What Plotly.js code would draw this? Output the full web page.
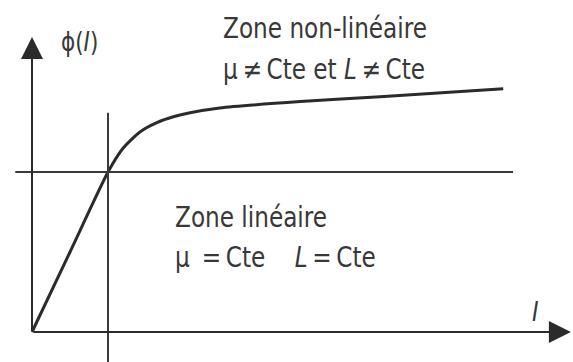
<!DOCTYPE html>
<html>
<head>
<meta charset="utf-8">
<script src="https://cdn.plot.ly/plotly-3.0.1.min.js"></script>
<style>
  html, body { margin: 0; padding: 0; background: #fff; }
  #chart { width: 573px; height: 362px; }
  /* narrow the lettering a little, keeping each label's left edge in place */
  #chart .annotation-text {
    transform-box: fill-box;
    transform-origin: left center;
    transform: scaleX(0.92);
  }
</style>
</head>
<body>
<div id="chart"></div>
<script>
// Magnetisation curve phi(I): linear zone up to the knee, then saturation
const current = [0, 0.5, 1, 1.2, 1.42, 1.65, 1.86, 2.08, 2.47, 3.53, 4.58, 6.2];
const flux    = [0, 0.5, 1, 1.15, 1.25, 1.31, 1.345, 1.37, 1.40, 1.44, 1.47, 1.52];

// Knee of the curve (end of the linear zone)
const kneeI = 1;
const kneePhi = 1;

// Axis extents
const xMin = -0.421, xMax = 7.118;
const yMin = -0.1875, yMax = 2.075;
const yAxisTop = 1.844;
const xAxisEnd = 7.09;
const kneeVTop = 1.37;
const kneeHLeft = -0.22, kneeHRight = 6.33;

// Labels
const labelPhi = "ϕ(<i>I</i>)";
const labelI = "<i>I</i>";
const zoneNL = "Zone non-linéaire";
const zoneNLcond = "µ&#8201;≠&#8201;Cte et <i>L</i>&#8201;≠&#8201;Cte";
const zoneL = "Zone linéaire";
const zoneLcond = "µ&#160;&#8201;=&#8201;Cte&#160;&#160;&#160;&#160;<i>L</i>&#8201;=&#8201;Cte";

const W = 573, H = 362;
const px = v => v / W;
const py = v => 1 - v / H;

const ink = "#2b2b2b";
const textInk = "#383838";
const font = { family: "DejaVu Sans Condensed, DejaVu Sans, sans-serif", size: 28, color: textInk };

const traces = [
  {
    x: current, y: flux,
    type: "scatter", mode: "lines",
    line: { color: ink, width: 3, shape: "spline", smoothing: 0.6 },
    hoverinfo: "skip"
  },
  // vertical guide through the knee
  {
    x: [kneeI, kneeI], y: [yMin, kneeVTop],
    type: "scatter", mode: "lines",
    line: { color: "#3a3a3a", width: 2 }, hoverinfo: "skip"
  },
  // horizontal guide through the knee
  {
    x: [kneeHLeft, kneeHRight], y: [kneePhi, kneePhi],
    type: "scatter", mode: "lines",
    line: { color: "#3a3a3a", width: 2 }, hoverinfo: "skip"
  }
];

const annotations = [
  // axes with arrowheads
  { x: 0, y: yAxisTop, ax: 0, ay: 0, xref: "x", yref: "y", axref: "x", ayref: "y",
    showarrow: true, arrowhead: 2, arrowsize: 2.2, arrowwidth: 2, arrowcolor: ink, text: "" },
  { x: xAxisEnd, y: 0, ax: 0, ay: 0, xref: "x", yref: "y", axref: "x", ayref: "y",
    showarrow: true, arrowhead: 2, arrowsize: 2.2, arrowwidth: 2, arrowcolor: ink, text: "" },
  // axis labels
  { text: labelPhi, x: px(59), y: py(42), xref: "paper", yref: "paper",
    xanchor: "left", yanchor: "middle", showarrow: false,
    font: Object.assign({}, font, { size: 26 }) },
  { text: labelI, x: px(530), y: py(311), xref: "paper", yref: "paper",
    xanchor: "left", yanchor: "middle", showarrow: false,
    font: Object.assign({}, font, { size: 27 }) },
  // zone descriptions
  { text: zoneNL, x: px(221), y: py(28), xref: "paper", yref: "paper",
    xanchor: "left", yanchor: "middle", showarrow: false, font: font },
  { text: zoneNLcond, x: px(221), y: py(69), xref: "paper", yref: "paper",
    xanchor: "left", yanchor: "middle", showarrow: false, font: font },
  { text: zoneL, x: px(173), y: py(217), xref: "paper", yref: "paper",
    xanchor: "left", yanchor: "middle", showarrow: false, font: font },
  { text: zoneLcond, x: px(173), y: py(257), xref: "paper", yref: "paper",
    xanchor: "left", yanchor: "middle", showarrow: false, font: font }
];

const layout = {
  width: W, height: H,
  margin: { l: 0, r: 0, t: 0, b: 0 },
  paper_bgcolor: "#ffffff",
  plot_bgcolor: "#ffffff",
  showlegend: false,
  xaxis: { range: [xMin, xMax], visible: false, fixedrange: true },
  yaxis: { range: [yMin, yMax], visible: false, fixedrange: true },
  annotations: annotations
};

Plotly.newPlot("chart", traces, layout, { staticPlot: true });
</script>
</body>
</html>
